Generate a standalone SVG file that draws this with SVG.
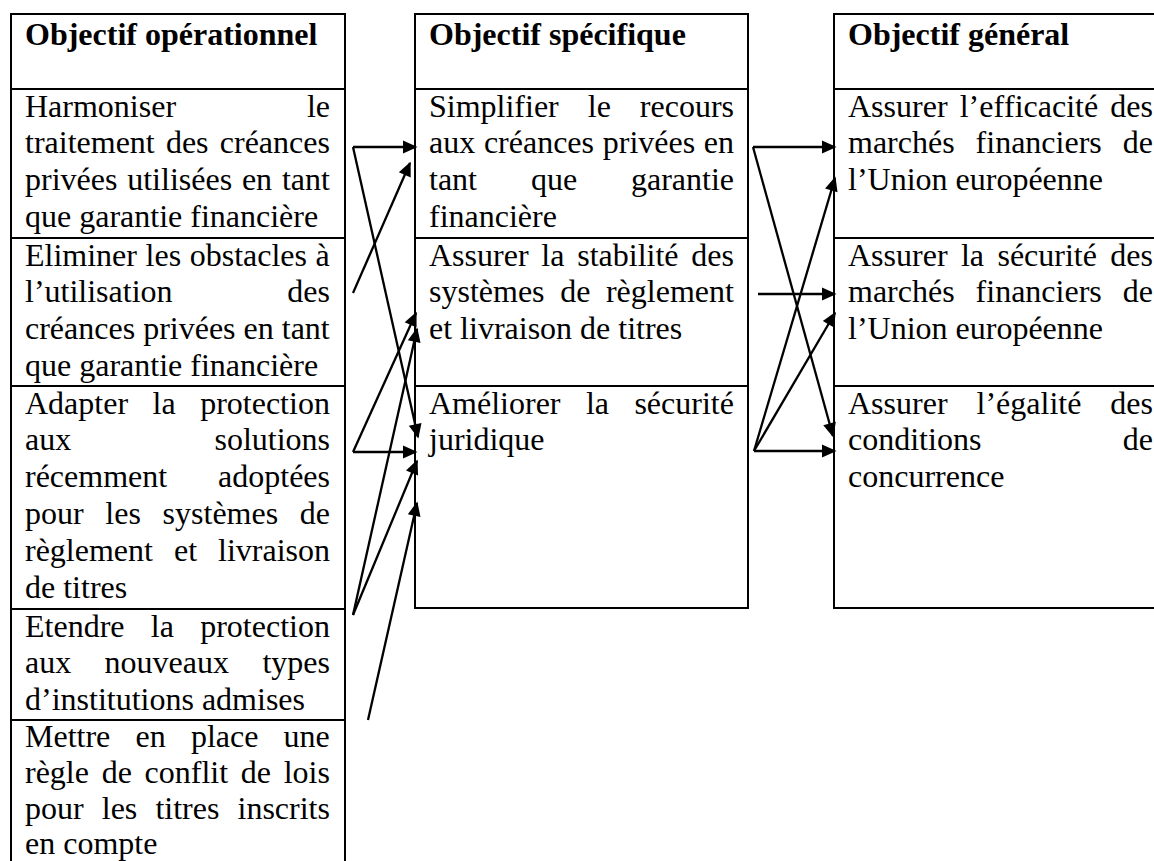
<svg xmlns="http://www.w3.org/2000/svg" width="1154" height="861" viewBox="0 0 1154 861">
<style>
.t{font-family:"Liberation Serif","Times New Roman",serif;font-size:32px;fill:#000;font-kerning:none;font-variant-ligatures:none}
.h{font-weight:bold}
.e{text-anchor:end}
.box{fill:none;stroke:#000;stroke-width:2}
.c{stroke:#000;stroke-width:2.3;fill:none;marker-end:url(#ah)}
</style>
<defs>
<marker id="ah" markerUnits="userSpaceOnUse" markerWidth="16" markerHeight="14" refX="13" refY="7" orient="auto" overflow="visible">
<path d="M0,0.5 L14.5,7 L0,13.5 z" fill="#000"/>
</marker>
</defs>
<rect x="0" y="0" width="1154" height="861" fill="#fff"/>

<!-- Column 1: Objectif opérationnel -->
<g id="op-header">
<rect class="box" x="11" y="14" width="334" height="75"/>
<text class="t h" x="25" y="45">Objectif opérationnel</text>
</g>
<g id="op-1">
<rect class="box" x="11" y="89" width="334" height="149"/>
<text class="t" x="25" y="116.5">Harmoniser</text><text class="t e" x="330" y="116.5">le</text>
<text class="t" x="25" y="153.4" style="word-spacing:3.2px">traitement des créances</text>
<text class="t" x="25" y="190.3" style="word-spacing:1.8px">privées utilisées en tant</text>
<text class="t" x="25" y="227.2">que garantie financière</text>
</g>
<g id="op-2">
<rect class="box" x="11" y="238" width="334" height="148"/>
<text class="t" x="25" y="265.5" style="word-spacing:0.6px">Eliminer les obstacles à</text>
<text class="t" x="25" y="302.4">l’utilisation</text><text class="t e" x="330" y="302.4">des</text>
<text class="t" x="25" y="339.3">créances privées en tant</text>
<text class="t" x="25" y="376.2">que garantie financière</text>
</g>
<g id="op-3">
<rect class="box" x="11" y="386" width="334" height="223"/>
<text class="t" x="25" y="413.5" style="word-spacing:16.5px">Adapter la protection</text>
<text class="t" x="25" y="450.4">aux</text><text class="t e" x="330" y="450.4">solutions</text>
<text class="t" x="25" y="487.3">récemment</text><text class="t e" x="330" y="487.3">adoptées</text>
<text class="t" x="25" y="524.2" style="word-spacing:13.7px">pour les systèmes de</text>
<text class="t" x="25" y="561.1" style="word-spacing:13px">règlement et livraison</text>
<text class="t" x="25" y="598">de titres</text>
</g>
<g id="op-4">
<rect class="box" x="11" y="609" width="334" height="111"/>
<text class="t" x="25" y="636.5" style="word-spacing:18.3px">Etendre la protection</text>
<text class="t" x="25" y="673.4" style="word-spacing:25.4px">aux nouveaux types</text>
<text class="t" x="25" y="710.3">d’institutions admises</text>
</g>
<g id="op-5">
<rect class="box" x="11" y="720" width="334" height="170"/>
<text class="t" x="25" y="746.5" style="word-spacing:17.2px">Mettre en place une</text>
<text class="t" x="25" y="782.5" style="word-spacing:4.7px">règle de conflit de lois</text>
<text class="t" x="25" y="818.5" style="word-spacing:10.1px">pour les titres inscrits</text>
<text class="t" x="25" y="853.5">en compte</text>
</g>

<!-- Column 2: Objectif spécifique -->
<g id="sp-header">
<rect class="box" x="415" y="14" width="333" height="75"/>
<text class="t h" x="429" y="45">Objectif spécifique</text>
</g>
<g id="sp-1">
<rect class="box" x="415" y="89" width="333" height="149"/>
<text class="t" x="429" y="116.5" style="word-spacing:21px">Simplifier le recours</text>
<text class="t" x="429" y="153.4" style="word-spacing:0.7px">aux créances privées en</text>
<text class="t" x="429" y="190.3" style="word-spacing:45.9px">tant que garantie</text>
<text class="t" x="429" y="227.2">financière</text>
</g>
<g id="sp-2">
<rect class="box" x="415" y="238" width="333" height="148"/>
<text class="t" x="429" y="265.5" style="word-spacing:4.8px">Assurer la stabilité des</text>
<text class="t" x="429" y="302.4" style="word-spacing:7.6px">systèmes de règlement</text>
<text class="t" x="429" y="339.3">et livraison de titres</text>
</g>
<g id="sp-3">
<rect class="box" x="415" y="386" width="333" height="222"/>
<text class="t" x="429" y="413.5" style="word-spacing:17.4px">Améliorer la sécurité</text>
<text class="t" x="429" y="450.4">juridique</text>
</g>

<!-- Column 3: Objectif général -->
<g id="ge-header">
<rect class="box" x="834" y="14" width="333" height="75"/>
<text class="t h" x="848" y="45">Objectif général</text>
</g>
<g id="ge-1">
<rect class="box" x="834" y="89" width="333" height="149"/>
<text class="t" x="848" y="116.5" style="word-spacing:4.1px">Assurer l’efficacité des</text>
<text class="t" x="848" y="153.4" style="word-spacing:13px">marchés financiers de</text>
<text class="t" x="848" y="190.3">l’Union européenne</text>
</g>
<g id="ge-2">
<rect class="box" x="834" y="238" width="333" height="148"/>
<text class="t" x="848" y="265.5" style="word-spacing:5.4px">Assurer la sécurité des</text>
<text class="t" x="848" y="302.4" style="word-spacing:13px">marchés financiers de</text>
<text class="t" x="848" y="339.3">l’Union européenne</text>
</g>
<g id="ge-3">
<rect class="box" x="834" y="386" width="333" height="222"/>
<text class="t" x="848" y="413.5" style="word-spacing:21px">Assurer l’égalité des</text>
<text class="t" x="848" y="450.4">conditions</text><text class="t e" x="1153" y="450.4">de</text>
<text class="t" x="848" y="487.3">concurrence</text>
</g>

<!-- Connectors -->
<g id="connectors">
<line class="c" x1="353" y1="147" x2="416" y2="147"/>
<line class="c" x1="353" y1="147" x2="418" y2="437"/>
<line class="c" x1="353" y1="293" x2="410" y2="163"/>
<line class="c" x1="353" y1="452" x2="416" y2="313"/>
<line class="c" x1="353" y1="452" x2="416" y2="452"/>
<line class="c" x1="353" y1="615" x2="417" y2="329"/>
<line class="c" x1="353" y1="615" x2="417" y2="461"/>
<line class="c" x1="368" y1="720" x2="417" y2="503"/>
<line class="c" x1="753" y1="147" x2="835" y2="147"/>
<line class="c" x1="753" y1="147" x2="833" y2="436"/>
<line class="c" x1="758" y1="294" x2="835" y2="294"/>
<line class="c" x1="754" y1="451" x2="835" y2="451"/>
<line class="c" x1="754" y1="451" x2="835" y2="178"/>
<line class="c" x1="754" y1="451" x2="835" y2="313"/>
</g>
</svg>
